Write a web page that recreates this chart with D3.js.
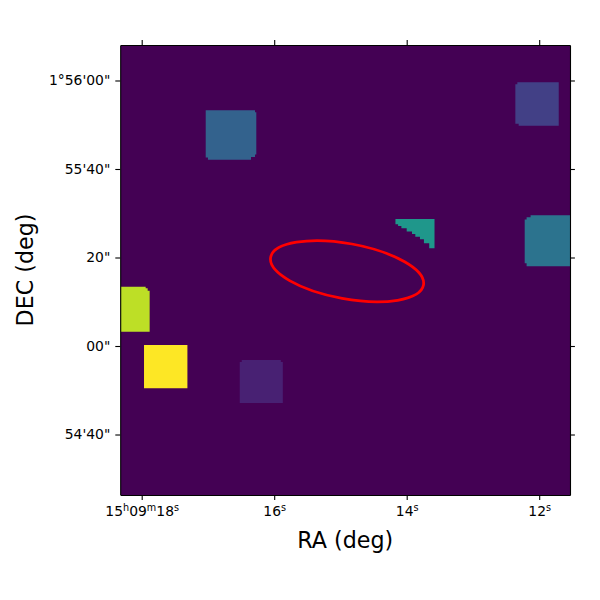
<!DOCTYPE html>
<html>
<head>
<meta charset="utf-8">
<script src="https://cdnjs.cloudflare.com/ajax/libs/d3/7.8.5/d3.min.js"></script>
<style>
  html, body { margin: 0; padding: 0; background: #fff; }
  text { font-family: "DejaVu Sans", sans-serif; fill: #000; }
</style>
</head>
<body>
<div id="chart"></div>
<script>
// RA in seconds past 15h09m, DEC in arcsec past 1deg55'
const raTicks = [18, 16, 14, 12];
const raLabels = [
  [["15"], ["h", 1], ["09"], ["m", 1], ["18"], ["s", 1]],
  [["16"], ["s", 1]],
  [["14"], ["s", 1]],
  [["12"], ["s", 1]]
];
const decTicks = [60, 40, 20, 0, -20];
const decLabels = ["1°56'00\"", "55'40\"", "20\"", "00\"", "54'40\""];

// flux of each region, 0..1 on the viridis range
const patchValues = [0.9, 1.0, 0.09, 0.31, 0.19, 0.38, 0.53];

// region outlines as [RA, DEC]
const limePatch = [[18.33, 13.4], [17.94, 13.4], [17.94, 13.03], [17.91, 13.03], [17.91, 12.5], [17.88, 12.5], [17.88, 3.23], [18.33, 3.23]];
const yellowPatch = [[17.965, 0.23], [17.31, 0.23], [17.31, -9.56], [17.965, -9.56]];
const purplePatch = [[16.52, -3.62], [16.49, -3.62], [16.49, -3.16], [15.9, -3.16], [15.9, -3.62], [15.87, -3.62], [15.87, -12.88], [16.52, -12.88]];
const bluePatch = [[17.034, 53.27], [16.29, 53.27], [16.29, 52.82], [16.27, 52.82], [16.27, 43.3], [16.29, 43.3], [16.29, 42.7], [16.35, 42.7], [16.35, 42.1], [17.0, 42.1], [17.0, 42.6], [17.034, 42.6]];
const upperRightPatch = [[12.36, 59.15], [12.33, 59.15], [12.33, 59.59], [11.705, 59.59], [11.705, 49.78], [12.31, 49.78], [12.31, 50.2], [12.36, 50.2]];
const rightPatch = [[12.219, 28.6], [12.19, 28.6], [12.19, 29.1], [12.13, 29.1], [12.13, 29.54], [11.5, 29.54], [11.5, 18.01], [12.19, 18.01], [12.19, 18.7], [12.219, 18.7]];
const tealPatch = [[14.17, 28.72], [13.58, 28.72], [13.58, 22.1], [13.66, 22.1], [13.66, 23.2], [13.74, 23.2], [13.74, 24.1], [13.8, 24.1], [13.8, 24.7], [13.87, 24.7], [13.87, 25.3], [13.92, 25.3], [13.92, 25.9], [14.0, 25.9], [14.0, 26.6], [14.08, 26.6], [14.08, 27.1], [14.13, 27.1], [14.13, 27.5], [14.17, 27.5]];
const patchOutlines = [limePatch, yellowPatch, purplePatch, bluePatch, upperRightPatch, rightPatch, tealPatch];

// aperture: centre RA, centre DEC, semi axes in arcsec, tilt in degrees
const apertureCentre = [14.9, 16.9];
const apertureAxes = [17.55, 6.25];
const apertureTilt = 10.3;

const width = 600, height = 600;
const margin = {top: 45, right: 30, bottom: 105, left: 120.5};
const plotWidth = width - margin.left - margin.right;
const plotHeight = height - margin.top - margin.bottom;

const svg = d3.select("#chart").append("svg")
    .attr("width", width).attr("height", height)
    .style("display", "block");

const x = d3.scaleLinear().domain([18.32, 11.535]).range([margin.left, margin.left + plotWidth]);
const y = d3.scaleLinear().domain([68.02, -33.67]).range([margin.top, margin.top + plotHeight]);
const colorScale = d3.scaleSequential(d3.interpolateViridis).domain([0, 1]);

svg.append("clipPath").attr("id", "plot-clip")
  .append("rect")
    .attr("x", margin.left).attr("y", margin.top)
    .attr("width", plotWidth).attr("height", plotHeight);

const plot = svg.append("g").attr("clip-path", "url(#plot-clip)");

plot.append("rect")
    .attr("x", margin.left).attr("y", margin.top)
    .attr("width", plotWidth).attr("height", plotHeight)
    .attr("fill", colorScale(0));

const outline = d3.line().x(d => x(d[0])).y(d => y(d[1])).curve(d3.curveLinearClosed);

plot.selectAll("path.patch")
  .data(patchOutlines)
  .join("path")
    .attr("class", "patch")
    .attr("d", outline)
    .attr("fill", (d, i) => colorScale(patchValues[i]));

// aperture drawn in pixel space so the tilt stays as seen
const cx = x(apertureCentre[0]), cy = y(apertureCentre[1]);
plot.append("ellipse")
    .attr("cx", cx).attr("cy", cy)
    .attr("rx", y(0) - y(apertureAxes[0]))
    .attr("ry", y(0) - y(apertureAxes[1]))
    .attr("transform", `rotate(${apertureTilt},${cx},${cy})`)
    .attr("fill", "none")
    .attr("stroke", "#ff0000")
    .attr("stroke-width", 2.78);

// axes: bottom/left carry labels, top/right only ticks
function styleAxis(g) {
  g.selectAll("path.domain").attr("stroke", "#000").attr("stroke-width", 1.1);
  g.selectAll(".tick line").attr("stroke", "#000").attr("stroke-width", 1.1);
  g.selectAll("text").style("font-size", "13.9px").attr("fill", "#000")
      .style("font-family", '"DejaVu Sans", sans-serif');
}

svg.append("g").attr("transform", `translate(0,${margin.top + plotHeight})`)
    .call(d3.axisBottom(x).tickValues(raTicks).tickSizeOuter(0).tickSizeInner(4.9).tickPadding(4))
    .call(styleAxis)
    .selectAll(".tick text")
    .each(function(d, i) {
      const t = d3.select(this).text(null).attr("dy", null).attr("y", 21);
      raLabels[i].forEach((p, k) => {
        t.append("tspan")
            .attr("dy", p[1] ? -5 : (k ? 5 : 0))
            .style("font-size", p[1] ? "9.7px" : "13.9px")
            .text(p[0]);
      });
    });

svg.append("g").attr("transform", `translate(0,${margin.top})`)
    .call(d3.axisTop(x).tickValues(raTicks).tickSizeOuter(0).tickSizeInner(4.9).tickFormat(""))
    .call(styleAxis);

svg.append("g").attr("transform", `translate(${margin.left - 0.3},0)`)
    .call(d3.axisLeft(y).tickValues(decTicks).tickSizeOuter(0).tickSizeInner(4.9).tickPadding(5)
      .tickFormat((d, i) => decLabels[i]))
    .call(styleAxis);

svg.append("g").attr("transform", `translate(${margin.left + plotWidth},0)`)
    .call(d3.axisRight(y).tickValues(decTicks).tickSizeOuter(0).tickSizeInner(4.9).tickFormat(""))
    .call(styleAxis);

svg.append("text")
    .attr("x", margin.left + plotWidth / 2).attr("y", 547.5)
    .attr("text-anchor", "middle")
    .style("font-size", "22.2px")
    .text("RA (deg)");

svg.append("text")
    .attr("transform", `translate(33,${margin.top + plotHeight / 2}) rotate(-90)`)
    .attr("text-anchor", "middle")
    .style("font-size", "22.2px")
    .text("DEC (deg)");
</script>
</body>
</html>
